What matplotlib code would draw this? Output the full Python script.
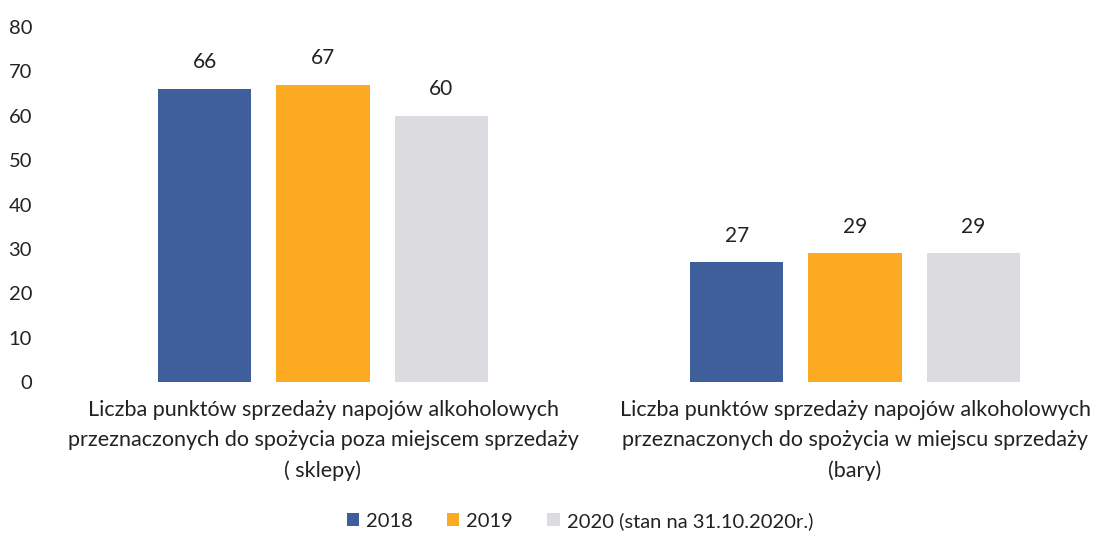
import matplotlib
matplotlib.use("Agg")
import matplotlib.pyplot as plt
import matplotlib.transforms as mtransforms
from matplotlib.patches import Patch
import numpy as np

categories = [
    "Liczba punktów sprzedaży napojów alkoholowych\nprzeznaczonych do spożycia poza miejscem sprzedaży\n( sklepy)",
    "Liczba punktów sprzedaży napojów alkoholowych\nprzeznaczonych do spożycia w miejscu sprzedaży\n(bary)",
]
series_names = ["2018", "2019", "2020 (stan na 31.10.2020r.)"]
values_2018 = [66, 27]
values_2019 = [67, 29]
values_2020 = [60, 29]
yticks = [0, 10, 20, 30, 40, 50, 60, 70, 80]

colors = ["#3e5f9b", "#fcaa22", "#dcdce0"]
font = ["Lato", "DejaVu Sans"]
plt.rcParams["font.family"] = font

W, H = 1101, 533
fig = plt.figure(figsize=(W / 100, H / 100), dpi=100)
left_px, zero_px, top_px = 57, 382, 27
ax = fig.add_axes([left_px / W, (H - zero_px) / H, 1 - left_px / W, (zero_px - top_px) / H])

x = np.arange(len(categories))
width = 0.175
offset = 0.222
all_series = [values_2018, values_2019, values_2020]
for i, (vals, col) in enumerate(zip(all_series, colors)):
    pos = x + (i - 1) * offset
    ax.bar(pos, vals, width=width, color=col, edgecolor="none")
    for p, v in zip(pos, vals):
        ax.text(p, v + 6.0, str(v), ha="center", va="center", fontsize=15, color="#222222")

ax.set_xlim(-0.5, -0.5 + (W - left_px) / 532)
ax.set_ylim(0, 80)
ax.set_yticks(yticks)
ax.tick_params(axis="y", length=0, labelsize=14.5, labelcolor="#222222", pad=18)
ax.set_xticks([])
for s in ax.spines.values():
    s.set_visible(False)

trans = mtransforms.blended_transform_factory(ax.transData, fig.transFigure)
for xi, lab in zip(x, categories):
    ax.text(xi, (H - 400) / H, lab, ha="center", va="top", fontsize=15.5,
            color="#222222", linespacing=1.62, transform=trans)

handles = [Patch(facecolor=c, edgecolor="none") for c in colors]
fig.legend(handles, series_names, loc="center", bbox_to_anchor=(580 / W, (H - 521) / H),
           ncol=3, frameon=False, fontsize=14.5, handlelength=0.6, handleheight=0.6,
           handletextpad=0.35, columnspacing=1.7, labelcolor="#222222")

fig.savefig("out.png", dpi=100)
